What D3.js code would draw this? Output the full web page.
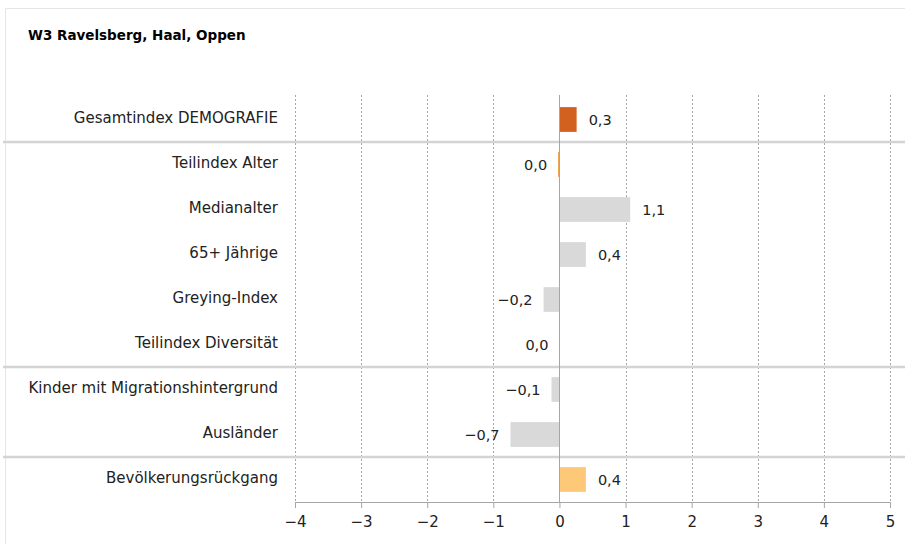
<!DOCTYPE html>
<html>
<head>
<meta charset="utf-8">
<script src="https://cdn.jsdelivr.net/npm/d3@7"></script>
<style>
  body { margin: 0; background: #fff; }
  text { font-family: "DejaVu Sans", Verdana, sans-serif; }
</style>
</head>
<body>
<div id="chart"></div>
<script>
// Data
const title = "W3 Ravelsberg, Haal, Oppen";
const categories = [
    "Gesamtindex DEMOGRAFIE",
    "Teilindex Alter",
    "Medianalter",
    "65+ Jährige",
    "Greying-Index",
    "Teilindex Diversität",
    "Kinder mit Migrationshintergrund",
    "Ausländer",
    "Bevölkerungsrückgang"
];
const values = [0.26, -0.02, 1.07, 0.4, -0.24, 0.0, -0.12, -0.74, 0.4];
const xTicks = [-4, -3, -2, -1, 0, 1, 2, 3, 4, 5];
// a separator line is drawn above these rows
const groupStarts = ["Teilindex Alter", "Kinder mit Migrationshintergrund", "Bevölkerungsrückgang"];

// Colours
const barColors = {
    "Gesamtindex DEMOGRAFIE": "#d2601f",
    "Teilindex Alter": "#ee9a3c",
    "Teilindex Diversität": "#ee9a3c",
    "Bevölkerungsrückgang": "#fdc978"
};
const defaultBar = "#d9d9d9";

const width = 905;
const height = 544;
const margin = {top: 97, right: 15, bottom: 42, left: 295};

const svg = d3.select("#chart")
    .append("svg")
    .attr("width", width)
    .attr("height", height);

// outer frame
svg.append("path")
    .attr("d", `M5.5,${height} V8.5 H${width}`)
    .attr("fill", "none")
    .attr("stroke", "#e6e6e6")
    .attr("stroke-width", 1);

svg.append("text")
    .attr("x", 28)
    .attr("y", 40)
    .style("font-size", "13.5px")
    .style("font-weight", "bold")
    .attr("fill", "#000")
    .text(title);

const x = d3.scaleLinear()
    .domain([-4, 5])
    .range([margin.left, width - margin.right]);

const y = d3.scaleBand()
    .domain(categories)
    .range([margin.top, height - margin.bottom])
    .paddingInner(0.45)
    .paddingOuter(0.225);

const de = d3.formatLocale({decimal: ",", thousands: ".", grouping: [3], currency: ["", " €"]});
const fmt = de.format(".1f");

// vertical grid lines
svg.append("g")
    .selectAll("line")
    .data(xTicks.filter(d => d !== 0))
    .enter().append("line")
    .attr("x1", d => Math.round(x(d)) + 0.5)
    .attr("x2", d => Math.round(x(d)) + 0.5)
    .attr("y1", margin.top - 2)
    .attr("y2", height - margin.bottom)
    .attr("stroke", "#a6a6a6")
    .attr("stroke-width", 1)
    .attr("stroke-dasharray", "2,2");

// group separators
const step = y.step();
svg.append("g")
    .selectAll("line")
    .data(groupStarts)
    .enter().append("line")
    .attr("x1", 3)
    .attr("x2", width)
    .attr("y1", d => y(d) - step * 0.225)
    .attr("y2", d => y(d) - step * 0.225)
    .attr("stroke", "#d4d4d4")
    .attr("stroke-width", 2.5);

// bars
svg.append("g")
    .selectAll("rect")
    .data(categories)
    .enter().append("rect")
    .attr("x", (d, i) => x(Math.min(0, values[i])))
    .attr("y", d => y(d))
    .attr("width", (d, i) => Math.abs(x(values[i]) - x(0)))
    .attr("height", y.bandwidth())
    .attr("fill", d => barColors[d] || defaultBar);

// zero line
svg.append("line")
    .attr("x1", Math.round(x(0)) + 0.5)
    .attr("x2", Math.round(x(0)) + 0.5)
    .attr("y1", margin.top - 2)
    .attr("y2", height - margin.bottom)
    .attr("stroke", "#a6a6a6")
    .attr("stroke-width", 1);

// value labels
svg.append("g")
    .selectAll("text")
    .data(categories)
    .enter().append("text")
    .attr("x", (d, i) => values[i] > 0 ? x(values[i]) + 12 : x(Math.min(0, values[i])) - 11)
    .attr("y", d => y(d) + y.bandwidth() / 2)
    .attr("dy", "0.36em")
    .attr("text-anchor", (d, i) => values[i] > 0 ? "start" : "end")
    .style("font-size", "14.5px")
    .attr("fill", "#222")
    .text((d, i) => fmt(values[i]));

// category labels
svg.append("g")
    .selectAll("text")
    .data(categories)
    .enter().append("text")
    .attr("x", margin.left - 17)
    .attr("y", d => y(d) + y.bandwidth() / 2 - 2)
    .attr("dy", "0.36em")
    .attr("text-anchor", "end")
    .style("font-size", "15px")
    .attr("fill", "#222")
    .text(d => d);

// x axis
const xAxis = svg.append("g")
    .attr("transform", `translate(0,${height - margin.bottom})`)
    .call(d3.axisBottom(x).tickValues(xTicks).tickSize(6).tickSizeOuter(0).tickPadding(8));
xAxis.select(".domain").attr("stroke", "#a6a6a6");
xAxis.selectAll(".tick line").attr("stroke", "#a6a6a6");
xAxis.selectAll(".tick text")
    .style("font-size", "15px")
    .style("font-family", "DejaVu Sans, sans-serif")
    .attr("fill", "#222");
</script>
</body>
</html>
